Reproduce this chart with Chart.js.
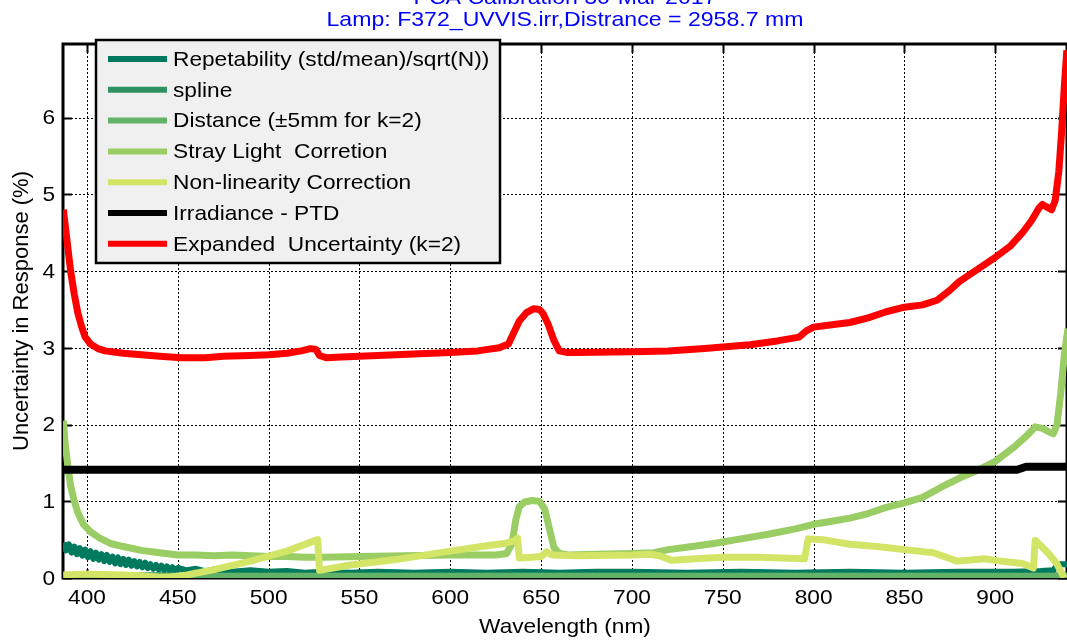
<!DOCTYPE html>
<html>
<head>
<meta charset="utf-8">
<script src="https://cdn.jsdelivr.net/npm/chart.js@4.4.1/dist/chart.umd.min.js"></script>
<style>
  html, body { margin: 0; padding: 0; background: #fff; overflow: hidden; }
</style>
</head>
<body>
<canvas id="myChart" width="1067" height="641"></canvas>
<script>
const FONT = "'Liberation Sans', Arial, Helvetica, sans-serif";
const SX = 1.08; // text is a little wider than plain Arial

// uncertainty components (%) vs wavelength (nm)
const wlRep = [387, 388.5, 390, 391.5, 393, 394.5, 396, 397.5, 399, 400.5, 402, 403.5, 405, 406.5, 408, 409.5, 411, 412.5, 414, 415.5, 417, 418.5, 420, 421.5, 423, 424.5, 426, 427.5, 429, 430.5, 432, 433.5, 435, 436.5, 438, 439.5, 441, 442.5, 444, 445.5, 447, 448.5, 450, 455, 460, 465, 470, 480, 490, 500, 510, 520, 530, 545, 560, 580, 600, 620, 640, 660, 680, 700, 730, 760, 790, 820, 850, 880, 910, 925, 932, 934, 936, 940];
const repeatability = [0.46, 0.36, 0.44, 0.33, 0.41, 0.31, 0.39, 0.29, 0.37, 0.27, 0.35, 0.25, 0.33, 0.24, 0.31, 0.22, 0.30, 0.21, 0.28, 0.19, 0.27, 0.18, 0.25, 0.17, 0.24, 0.16, 0.22, 0.15, 0.21, 0.14, 0.20, 0.13, 0.18, 0.12, 0.17, 0.11, 0.16, 0.10, 0.15, 0.10, 0.14, 0.09, 0.13, 0.10, 0.12, 0.09, 0.11, 0.08, 0.10, 0.08, 0.09, 0.07, 0.08, 0.07, 0.08, 0.07, 0.08, 0.07, 0.08, 0.07, 0.08, 0.08, 0.07, 0.08, 0.07, 0.08, 0.07, 0.08, 0.08, 0.09, 0.10, 0.17, 0.18, 0.18];

const wlSpline = [387, 940];
const spline = [0.03, 0.03];

const wlDist = [387, 940];
const distance = [0.02, 0.02];

const wlStray = [387, 388, 389.5, 391, 393, 395, 398, 402, 407, 413, 420, 430, 440, 450, 460, 470, 480, 490, 500, 510, 520, 530, 550, 575, 600, 625, 631, 634, 636, 638, 641, 645, 649, 652, 655, 657, 660, 665, 680, 700, 712, 720, 730, 745, 760, 775, 790, 800, 810, 820, 830, 840, 850, 860, 870, 880, 890, 900, 910, 918, 922, 926, 930, 932, 934, 936, 938, 940];
const strayLight = [2.05, 1.75, 1.45, 1.2, 1.0, 0.85, 0.7, 0.6, 0.52, 0.45, 0.41, 0.36, 0.33, 0.30, 0.30, 0.29, 0.30, 0.29, 0.28, 0.28, 0.27, 0.27, 0.28, 0.29, 0.30, 0.30, 0.32, 0.45, 0.75, 0.93, 0.99, 1.01, 1.0, 0.9, 0.6, 0.4, 0.32, 0.30, 0.31, 0.32, 0.33, 0.37, 0.40, 0.45, 0.51, 0.57, 0.64, 0.70, 0.74, 0.78, 0.84, 0.92, 0.98, 1.05, 1.18, 1.30, 1.40, 1.52, 1.70, 1.87, 1.97, 1.95, 1.90, 1.88, 2.0, 2.4, 2.9, 3.25];

const wlNonlin = [387, 395, 405, 420, 430, 440, 445, 455, 470, 490, 510, 527, 528, 545, 570, 600, 620, 630, 635, 637, 638, 645, 650, 653, 656, 670, 700, 710, 715, 722, 735, 750, 770, 795, 797, 805, 820, 835, 850, 866, 873, 879, 894, 903, 915, 921, 922, 926, 930, 934, 938];
const nonlinearity = [0.04, 0.05, 0.05, 0.04, 0.03, 0.01, 0.01, 0.04, 0.11, 0.22, 0.35, 0.50, 0.10, 0.17, 0.24, 0.35, 0.42, 0.45, 0.48, 0.52, 0.26, 0.27, 0.28, 0.34, 0.30, 0.29, 0.30, 0.31, 0.29, 0.23, 0.25, 0.27, 0.27, 0.25, 0.51, 0.50, 0.44, 0.41, 0.37, 0.33, 0.27, 0.22, 0.25, 0.22, 0.19, 0.13, 0.49, 0.40, 0.30, 0.18, 0.0];

const wlPtd = [387, 912, 917, 940];
const irradiancePtd = [1.41, 1.41, 1.45, 1.45];

const wlExp = [387, 389, 391, 393, 395, 397, 399, 402, 406, 410, 420, 430, 440, 452, 465, 475, 490, 500, 510, 518, 523, 526, 528, 532, 540, 560, 580, 600, 615, 627, 632, 635, 638, 642, 646, 649, 651, 654, 657, 660, 664, 670, 700, 720, 740, 765, 780, 792, 796, 800, 810, 820, 830, 840, 850, 860, 868, 875, 880, 890, 900, 908, 915, 920, 924, 926, 928, 931, 933, 935, 936.5, 938, 939.4];
const expanded = [4.8, 4.4, 4.0, 3.7, 3.45, 3.28, 3.14, 3.05, 2.99, 2.96, 2.93, 2.91, 2.89, 2.87, 2.87, 2.89, 2.90, 2.91, 2.93, 2.96, 2.99, 2.98, 2.90, 2.87, 2.88, 2.90, 2.92, 2.94, 2.96, 3.0, 3.05, 3.2, 3.35, 3.46, 3.51, 3.50, 3.45, 3.30, 3.10, 2.96, 2.94, 2.94, 2.95, 2.96, 2.99, 3.04, 3.09, 3.14, 3.22, 3.27, 3.30, 3.33, 3.39, 3.47, 3.53, 3.56, 3.62, 3.75, 3.86, 4.02, 4.18, 4.32, 4.50, 4.66, 4.82, 4.87, 4.84, 4.80, 4.92, 5.3, 5.8, 6.4, 6.88];

const xTicks = [400, 450, 500, 550, 600, 650, 700, 750, 800, 850, 900];
const yTicks = [0, 1, 2, 3, 4, 5, 6];

function pts(xs, ys) {
    return xs.map((x, i) => ({ x: x, y: ys[i] }));
}

function series(label, xs, ys, color, order, width) {
    return {
        label: label,
        data: pts(xs, ys),
        borderColor: color,
        backgroundColor: color,
        borderWidth: width || 7,
        borderJoinStyle: 'round',
        pointRadius: 0,
        tension: 0,
        order: order
    };
}

// horizontally widened text
function text(ctx, str, x, y, align, size, sx) {
    ctx.save();
    ctx.font = size + 'px ' + FONT;
    ctx.textAlign = align;
    ctx.translate(x, y);
    ctx.scale(sx || SX, 1);
    ctx.fillText(str, 0, 0);
    ctx.restore();
}

// dotted grid, axes box and inward ticks, drawn under the lines
const frame = {
    id: 'frame',
    beforeDatasetsDraw(chart) {
        const { ctx, chartArea, scales } = chart;
        const { left, right, top, bottom } = chartArea;
        ctx.save();
        ctx.strokeStyle = '#000';
        ctx.lineWidth = 1;
        ctx.setLineDash([2, 2]);
        xTicks.forEach(v => {
            const x = Math.round(scales.x.getPixelForValue(v)) + 0.5;
            ctx.beginPath(); ctx.moveTo(x, top); ctx.lineTo(x, bottom); ctx.stroke();
        });
        yTicks.forEach(v => {
            const y = Math.round(scales.y.getPixelForValue(v)) + 0.5;
            ctx.beginPath(); ctx.moveTo(left, y); ctx.lineTo(right, y); ctx.stroke();
        });
        ctx.setLineDash([]);
        ctx.lineWidth = 2;
        xTicks.forEach(v => {
            const x = Math.round(scales.x.getPixelForValue(v)) + 0.5;
            ctx.beginPath(); ctx.moveTo(x, top); ctx.lineTo(x, top + 9); ctx.stroke();
            ctx.beginPath(); ctx.moveTo(x, bottom); ctx.lineTo(x, bottom - 9); ctx.stroke();
        });
        yTicks.forEach(v => {
            const y = Math.round(scales.y.getPixelForValue(v)) + 0.5;
            ctx.beginPath(); ctx.moveTo(left, y); ctx.lineTo(left + 9, y); ctx.stroke();
            ctx.beginPath(); ctx.moveTo(right, y); ctx.lineTo(right - 9, y); ctx.stroke();
        });
        ctx.lineWidth = 3;
        ctx.strokeRect(left, top, right - left, bottom - top);
        ctx.restore();
    },
    afterDraw(chart) {
        const { ctx, chartArea, scales } = chart;
        const cx = (chartArea.left + chartArea.right) / 2;
        ctx.save();
        ctx.textBaseline = 'alphabetic';
        ctx.fillStyle = '#0000ff';
        text(ctx, 'PCA Calibration 30-Mar-2017', cx, 4, 'center', 21, 1.1);
        text(ctx, 'Lamp: F372_UVVIS.irr,Distrance = 2958.7 mm', cx, 26, 'center', 21, 1.1);

        ctx.fillStyle = '#000';
        ctx.textBaseline = 'middle';
        xTicks.forEach(v => text(ctx, String(v), scales.x.getPixelForValue(v), 598, 'center', 21));
        yTicks.forEach(v => text(ctx, String(v), 55, scales.y.getPixelForValue(v) + 1, 'right', 21));
        text(ctx, 'Wavelength (nm)', cx, 627, 'center', 21);

        ctx.translate(22, (chartArea.top + chartArea.bottom) / 2);
        ctx.rotate(-Math.PI / 2);
        text(ctx, 'Uncertainty in Response (%)', 0, 0, 'center', 22, 1);
        ctx.restore();
    }
};

// boxed legend in the upper left
const legendBox = {
    id: 'legendBox',
    afterDatasetsDraw(chart) {
        const ctx = chart.ctx;
        ctx.save();
        ctx.fillStyle = '#f0f0f0';
        ctx.fillRect(96, 40, 404, 223);
        ctx.strokeStyle = '#000';
        ctx.lineWidth = 2.5;
        ctx.strokeRect(96, 40, 404, 223);
        ctx.textBaseline = 'middle';
        chart.data.datasets.forEach((ds, i) => {
            const y = 59 + i * 30.8;
            ctx.strokeStyle = ds.borderColor;
            ctx.lineWidth = 6;
            ctx.beginPath(); ctx.moveTo(108, y); ctx.lineTo(167, y); ctx.stroke();
            ctx.fillStyle = '#000';
            text(ctx, ds.label, 173, y + 1, 'left', 21);
        });
        ctx.restore();
    }
};

const ctx = document.getElementById('myChart');

new Chart(ctx, {
    type: 'line',
    data: {
        datasets: [
            series('Repetability (std/mean)/sqrt(N))', wlRep, repeatability, '#007a5e', 7, 6),
            series('spline', wlSpline, spline, '#2f9262', 6),
            series('Distance (\u00b15mm for k=2)', wlDist, distance, '#62b268', 5),
            series('Stray Light  Corretion', wlStray, strayLight, '#9acd63', 4),
            series('Non-linearity Correction', wlNonlin, nonlinearity, '#d3e566', 3),
            series('Irradiance - PTD', wlPtd, irradiancePtd, '#000000', 2, 8),
            series('Expanded  Uncertainty (k=2)', wlExp, expanded, '#ff0000', 1)
        ]
    },
    options: {
        responsive: false,
        animation: false,
        layout: { padding: { top: 44, right: 0, left: 0, bottom: 0 } },
        scales: {
            x: {
                type: 'linear',
                min: 386.8,
                max: 939.5,
                afterFit: (scale) => { scale.height = 63; },
                afterBuildTicks: (scale) => { scale.ticks = xTicks.map(v => ({ value: v })); },
                grid: { display: false },
                border: { display: false },
                ticks: { display: false }
            },
            y: {
                min: 0,
                max: 6.96,
                afterFit: (scale) => { scale.width = 63; },
                afterBuildTicks: (scale) => { scale.ticks = yTicks.map(v => ({ value: v })); },
                grid: { display: false },
                border: { display: false },
                ticks: { display: false }
            }
        },
        plugins: {
            legend: { display: false },
            tooltip: { enabled: false }
        }
    },
    plugins: [frame, legendBox]
});
</script>
</body>
</html>
